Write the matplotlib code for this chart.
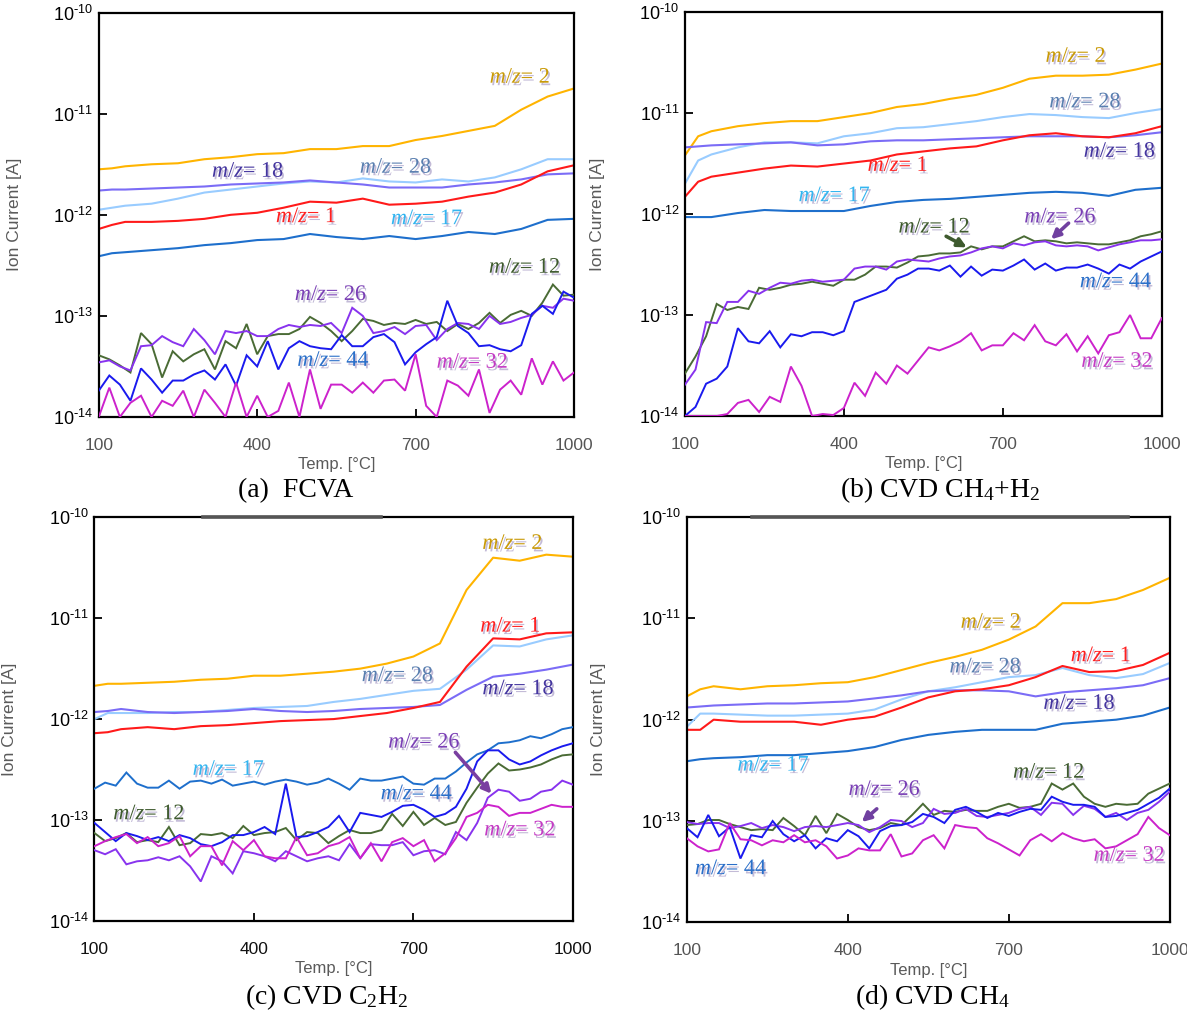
import numpy as np
import matplotlib
matplotlib.use("Agg")
import matplotlib.pyplot as plt
import matplotlib.patheffects as pe
from matplotlib.ticker import NullLocator

plt.rcParams['font.family'] = ['Liberation Sans', 'DejaVu Sans']
plt.rcParams['mathtext.fontset'] = 'custom'
plt.rcParams['mathtext.it'] = 'Liberation Serif:italic'
plt.rcParams['mathtext.rm'] = 'Liberation Serif'

# ---------------- data (log10 of ion current [A]) ----------------
T_SMOOTH = [100, 125, 150, 200, 250, 300, 350, 400, 450, 500, 550, 600, 650,
            700, 750, 800, 850, 900, 950, 1000]
T_NOISY = [100, 120, 140, 160, 180, 200, 220, 240, 260, 280, 300, 320, 340,
           360, 380, 400, 420, 440, 460, 480, 500, 520, 540, 560, 580, 600,
           620, 640, 660, 680, 700, 720, 740, 760, 780, 800, 820, 840, 860,
           880, 900, 920, 940, 960, 980, 1000]
X_TICKS = [100, 400, 700, 1000]
Y_TICKS = [-14, -13, -12, -11, -10]

# (a) FCVA
a_mz2 = [-11.55, -11.54, -11.52, -11.50, -11.49, -11.45, -11.43, -11.40, -11.39, -11.35,
         -11.35, -11.32, -11.32, -11.26, -11.22, -11.17, -11.12, -10.96, -10.83, -10.75]
a_mz28 = [-11.95, -11.93, -11.91, -11.89, -11.84, -11.78, -11.75, -11.72, -11.69, -11.67,
          -11.68, -11.64, -11.67, -11.68, -11.65, -11.67, -11.63, -11.55, -11.45, -11.45]
a_mz18 = [-11.76, -11.75, -11.75, -11.74, -11.73, -11.72, -11.70, -11.69, -11.68, -11.66,
          -11.68, -11.70, -11.73, -11.73, -11.73, -11.70, -11.68, -11.65, -11.60, -11.59]
a_mz1 = [-12.14, -12.10, -12.07, -12.07, -12.06, -12.04, -12.00, -11.98, -11.93, -11.87,
         -11.88, -11.84, -11.90, -11.89, -11.87, -11.82, -11.78, -11.70, -11.57, -11.51]
a_mz17 = [-12.41, -12.38, -12.37, -12.35, -12.33, -12.30, -12.28, -12.25, -12.24, -12.19,
          -12.22, -12.24, -12.21, -12.24, -12.21, -12.17, -12.19, -12.14, -12.05, -12.04]
a_mz12 = [-13.39, -13.43, -13.49, -13.56, -13.17, -13.28, -13.61, -13.35, -13.45, -13.38,
          -13.33, -13.53, -13.25, -13.32, -13.08, -13.38, -13.20, -13.18, -13.18, -13.13,
          -13.01, -13.07, -13.15, -13.25, -13.15, -13.03, -13.05, -13.09, -13.07, -13.08,
          -13.04, -13.08, -13.06, -13.15, -13.08, -13.13, -13.07, -12.97, -13.07, -12.99,
          -12.95, -13.00, -12.87, -12.69, -12.80, -12.79]
a_mz26 = [-13.46, -13.44, -13.50, -13.54, -13.30, -13.29, -13.20, -13.26, -13.30, -13.13,
          -13.24, -13.38, -13.15, -13.17, -13.15, -13.20, -13.20, -13.13, -13.09, -13.11,
          -13.09, -13.10, -13.07, -13.17, -12.92, -13.00, -13.17, -13.15, -13.11, -13.18,
          -13.10, -13.09, -13.24, -13.13, -13.07, -13.08, -13.13, -13.00, -13.08, -13.06,
          -13.02, -12.99, -12.90, -12.92, -12.83, -12.85]
a_mz44 = [-13.74, -13.59, -13.68, -13.84, -13.52, -13.63, -13.76, -13.64, -13.64, -13.58,
          -13.54, -13.63, -13.48, -13.69, -13.39, -13.50, -13.25, -13.53, -13.32, -13.25,
          -13.30, -13.32, -13.33, -13.19, -13.30, -13.30, -13.21, -13.18, -13.26, -13.48,
          -13.36, -13.28, -13.21, -12.85, -13.10, -13.17, -13.30, -13.29, -13.33, -13.35,
          -13.29, -12.98, -12.90, -12.98, -12.76, -12.82]
a_mz32 = [-14.00, -13.71, -14.00, -13.86, -13.79, -14.00, -13.84, -13.89, -13.74, -14.00,
          -13.73, -13.86, -14.00, -13.66, -14.00, -13.79, -14.00, -13.94, -13.66, -14.00,
          -13.53, -13.92, -13.68, -13.68, -13.76, -13.66, -13.76, -13.64, -13.63, -13.74,
          -13.38, -13.89, -14.00, -13.64, -13.69, -13.79, -13.53, -13.96, -13.73, -13.64,
          -13.78, -13.42, -13.68, -13.45, -13.64, -13.56]

# (b) CVD CH4+H2
b_mz2 = [-11.42, -11.23, -11.18, -11.13, -11.10, -11.08, -11.08, -11.04, -11.00, -10.94,
         -10.91, -10.86, -10.82, -10.75, -10.66, -10.63, -10.63, -10.62, -10.57, -10.51]
b_mz28 = [-11.70, -11.47, -11.41, -11.34, -11.29, -11.29, -11.30, -11.23, -11.20, -11.15,
          -11.14, -11.11, -11.08, -11.04, -11.01, -11.02, -11.04, -11.05, -11.00, -10.96]
b_mz18 = [-11.34, -11.33, -11.32, -11.31, -11.30, -11.29, -11.32, -11.31, -11.28, -11.27,
          -11.27, -11.26, -11.25, -11.24, -11.23, -11.23, -11.23, -11.24, -11.22, -11.19]
b_mz1 = [-11.83, -11.68, -11.63, -11.59, -11.55, -11.52, -11.53, -11.50, -11.47, -11.41,
         -11.38, -11.35, -11.33, -11.27, -11.22, -11.20, -11.23, -11.24, -11.20, -11.13]
b_mz17 = [-12.03, -12.03, -12.03, -11.99, -11.96, -11.97, -11.97, -11.97, -11.92, -11.88,
          -11.86, -11.85, -11.83, -11.81, -11.79, -11.78, -11.79, -11.82, -11.76, -11.74]
b_mz12 = [-13.58, -13.41, -13.21, -12.89, -12.95, -12.92, -12.94, -12.73, -12.75, -12.73,
          -12.70, -12.69, -12.67, -12.69, -12.71, -12.65, -12.65, -12.60, -12.52, -12.52,
          -12.53, -12.48, -12.42, -12.41, -12.39, -12.39, -12.38, -12.32, -12.35, -12.32,
          -12.32, -12.27, -12.22, -12.27, -12.26, -12.27, -12.29, -12.28, -12.29, -12.30,
          -12.30, -12.28, -12.26, -12.22, -12.20, -12.17]
b_mz26 = [-13.69, -13.54, -13.07, -13.08, -12.87, -12.87, -12.76, -12.79, -12.73, -12.68,
          -12.69, -12.66, -12.65, -12.67, -12.66, -12.65, -12.54, -12.52, -12.52, -12.55,
          -12.47, -12.45, -12.46, -12.47, -12.44, -12.42, -12.41, -12.38, -12.34, -12.32,
          -12.34, -12.29, -12.31, -12.28, -12.27, -12.31, -12.32, -12.31, -12.32, -12.36,
          -12.33, -12.30, -12.28, -12.26, -12.26, -12.25]
b_mz44 = [-14.00, -13.91, -13.68, -13.63, -13.51, -13.13, -13.26, -13.28, -13.16, -13.32,
          -13.19, -13.21, -13.17, -13.17, -13.20, -13.16, -12.87, -12.83, -12.79, -12.75,
          -12.64, -12.60, -12.54, -12.54, -12.56, -12.51, -12.62, -12.52, -12.61, -12.55,
          -12.56, -12.51, -12.45, -12.55, -12.49, -12.56, -12.53, -12.53, -12.50, -12.54,
          -12.59, -12.50, -12.54, -12.47, -12.42, -12.37]
b_mz32 = [-14.00, -14.00, -14.00, -14.00, -13.98, -13.87, -13.84, -13.96, -13.81, -13.86,
          -13.51, -13.70, -14.00, -13.98, -13.99, -13.92, -13.67, -13.80, -13.57, -13.68,
          -13.50, -13.58, -13.45, -13.32, -13.35, -13.31, -13.26, -13.18, -13.35, -13.30,
          -13.30, -13.18, -13.25, -13.10, -13.26, -13.30, -13.19, -13.36, -13.21, -13.38,
          -13.20, -13.17, -13.00, -13.23, -13.23, -13.03]

# (c) CVD C2H2
c_mz2 = [-11.67, -11.65, -11.65, -11.64, -11.63, -11.61, -11.60, -11.57, -11.57, -11.55,
         -11.53, -11.50, -11.45, -11.38, -11.25, -10.72, -10.40, -10.43, -10.37, -10.39]
c_mz1 = [-12.14, -12.13, -12.10, -12.08, -12.10, -12.07, -12.06, -12.04, -12.02, -12.01,
         -12.00, -11.97, -11.94, -11.89, -11.83, -11.48, -11.20, -11.21, -11.15, -11.14]
c_mz28 = [-12.00, -11.94, -11.94, -11.94, -11.93, -11.93, -11.91, -11.89, -11.88, -11.87,
          -11.83, -11.80, -11.76, -11.72, -11.70, -11.51, -11.27, -11.28, -11.21, -11.17]
c_mz18 = [-11.93, -11.92, -11.90, -11.93, -11.94, -11.93, -11.92, -11.90, -11.92, -11.93,
          -11.92, -11.90, -11.89, -11.88, -11.86, -11.71, -11.58, -11.55, -11.51, -11.46]
c_mz17 = [-12.69, -12.63, -12.66, -12.53, -12.64, -12.68, -12.68, -12.61, -12.69, -12.62,
          -12.61, -12.64, -12.60, -12.66, -12.64, -12.62, -12.65, -12.62, -12.60, -12.62,
          -12.65, -12.63, -12.59, -12.64, -12.70, -12.59, -12.61, -12.61, -12.59, -12.57,
          -12.64, -12.65, -12.59, -12.59, -12.52, -12.43, -12.35, -12.31, -12.24, -12.23,
          -12.21, -12.17, -12.19, -12.15, -12.10, -12.08]
c_mz12 = [-13.13, -13.21, -13.18, -13.13, -13.22, -13.20, -13.22, -13.07, -13.25, -13.23,
          -13.14, -13.15, -13.13, -13.18, -13.06, -13.15, -13.13, -13.12, -13.08, -13.20,
          -13.12, -13.13, -13.23, -13.16, -13.10, -13.13, -13.13, -13.10, -12.94, -13.06,
          -12.92, -13.05, -12.98, -13.05, -13.02, -12.83, -12.68, -12.54, -12.44, -12.51,
          -12.50, -12.48, -12.45, -12.40, -12.36, -12.35]
c_mz44 = [-13.03, -13.12, -13.21, -13.13, -13.16, -13.20, -13.17, -13.21, -13.15, -13.18,
          -13.24, -13.26, -13.22, -13.15, -13.15, -13.12, -13.07, -13.14, -12.64, -13.17,
          -13.16, -13.12, -13.07, -12.96, -13.12, -12.93, -12.95, -12.97, -12.92, -12.86,
          -12.85, -12.90, -12.97, -12.94, -12.87, -12.69, -12.42, -12.31, -12.31, -12.40,
          -12.45, -12.42, -12.36, -12.31, -12.27, -12.24]
c_mz26 = [-13.30, -13.34, -13.29, -13.44, -13.41, -13.40, -13.37, -13.40, -13.36, -13.46,
          -13.61, -13.36, -13.41, -13.53, -13.31, -13.33, -13.36, -13.41, -13.31, -13.36,
          -13.41, -13.38, -13.36, -13.40, -13.24, -13.38, -13.24, -13.25, -13.25, -13.22,
          -13.35, -13.31, -13.30, -13.34, -13.12, -13.20, -13.03, -12.78, -12.70, -12.72,
          -12.81, -12.79, -12.72, -12.70, -12.61, -12.65]
c_mz32 = [-13.26, -13.21, -13.17, -13.14, -13.23, -13.17, -13.26, -13.23, -13.16, -13.36,
          -13.26, -13.26, -13.45, -13.21, -13.30, -13.20, -13.36, -13.38, -13.38, -13.17,
          -13.35, -13.33, -13.26, -13.23, -13.17, -13.38, -13.23, -13.41, -13.22, -13.18,
          -13.26, -13.20, -13.41, -13.33, -13.18, -12.97, -12.93, -12.85, -12.87, -12.96,
          -12.93, -12.93, -12.89, -12.85, -12.87, -12.87]

# (d) CVD CH4
d_mz2 = [-11.77, -11.70, -11.67, -11.70, -11.67, -11.66, -11.64, -11.63, -11.58, -11.51,
         -11.44, -11.38, -11.31, -11.21, -11.08, -10.85, -10.85, -10.81, -10.72, -10.60]
d_mz1 = [-12.10, -12.10, -12.00, -12.02, -12.02, -12.02, -12.05, -12.00, -11.97, -11.88,
         -11.78, -11.72, -11.70, -11.66, -11.58, -11.47, -11.53, -11.52, -11.46, -11.34]
d_mz28 = [-12.07, -11.94, -11.94, -11.95, -11.96, -11.96, -11.95, -11.94, -11.90, -11.80,
          -11.72, -11.68, -11.63, -11.58, -11.56, -11.49, -11.56, -11.59, -11.55, -11.44]
d_mz18 = [-11.88, -11.87, -11.86, -11.85, -11.84, -11.84, -11.83, -11.82, -11.79, -11.76,
          -11.72, -11.71, -11.71, -11.72, -11.77, -11.73, -11.71, -11.69, -11.66, -11.59]
d_mz17 = [-12.41, -12.39, -12.38, -12.37, -12.35, -12.35, -12.33, -12.31, -12.27, -12.20,
          -12.15, -12.12, -12.10, -12.10, -12.10, -12.04, -12.02, -12.00, -11.96, -11.88]
d_mz12 = [-13.04, -13.03, -12.99, -12.99, -13.03, -13.06, -13.09, -13.08, -13.09, -12.97,
          -13.05, -13.14, -12.95, -13.12, -12.93, -12.99, -13.06, -13.09, -13.07, -13.02,
          -13.04, -12.94, -12.83, -12.94, -12.90, -12.91, -12.89, -12.90, -12.90, -12.86,
          -12.83, -12.87, -12.86, -12.83, -12.63, -12.69, -12.63, -12.76, -12.83, -12.86,
          -12.83, -12.84, -12.83, -12.73, -12.68, -12.63]
d_mz26 = [-13.01, -13.03, -13.02, -13.02, -13.07, -13.05, -13.02, -13.07, -13.04, -13.06,
          -13.10, -13.06, -13.05, -13.06, -13.04, -13.02, -13.04, -13.11, -13.06, -12.99,
          -13.00, -13.06, -13.02, -12.88, -12.93, -12.92, -12.88, -12.95, -12.96, -12.94,
          -12.92, -12.88, -12.86, -12.94, -12.82, -12.83, -12.94, -12.85, -12.88, -12.96,
          -12.92, -12.99, -12.92, -12.89, -12.81, -12.71]
d_mz44 = [-13.07, -13.16, -12.94, -13.15, -13.06, -13.37, -13.14, -13.16, -13.00, -13.13,
          -13.20, -13.14, -13.27, -13.17, -13.20, -13.09, -13.15, -13.27, -13.10, -13.05,
          -13.04, -13.01, -12.93, -12.96, -13.02, -12.89, -12.86, -12.91, -12.97, -12.92,
          -12.95, -12.91, -12.88, -12.89, -12.76, -12.81, -12.84, -12.84, -12.86, -12.96,
          -12.95, -12.92, -12.89, -12.83, -12.77, -12.68]
d_mz32 = [-13.17, -13.25, -13.30, -13.28, -13.02, -13.18, -13.19, -13.24, -13.19, -13.21,
          -13.14, -13.21, -13.19, -13.25, -13.37, -13.34, -13.27, -13.29, -13.29, -13.13,
          -13.35, -13.32, -13.19, -13.14, -13.27, -13.04, -13.06, -13.07, -13.17, -13.22,
          -13.28, -13.34, -13.19, -13.13, -13.20, -13.12, -13.17, -13.20, -13.18, -13.27,
          -13.25, -13.19, -13.13, -12.96, -13.07, -13.14]

# ---------------- styles ----------------
LINE_COLORS = {'2': '#FFB400', '28': '#99CCFF', '18': '#7B6CF6', '1': '#FF1A1A',
               '17': '#1E6FCC', '12': '#4A6B35', '26': '#8833EE', '44': '#1A1AEE',
               '32': '#CC22CC'}
LABEL_COLORS = {'2': '#C99A06', '28': '#5A7FB0', '18': '#44359F', '1': '#FF2020',
                '17': '#33B5F0', '12': '#3E5A2E', '26': '#7A3FB5', '44': '#2A6FC9',
                '32': '#C43BC4'}
DRAW_ORDER = ['2', '28', '18', '1', '17', '12', '26', '44', '32']

panels = [
    dict(rect=[0.0832, 0.5884, 0.4004, 0.3991],
         data={'2': a_mz2, '28': a_mz28, '18': a_mz18, '1': a_mz1, '17': a_mz17,
               '12': a_mz12, '26': a_mz26, '44': a_mz44, '32': a_mz32},
         labels={'2': (898, -10.65), '18': (383, -11.58), '28': (663, -11.54),
                 '1': (493, -12.03), '17': (722, -12.05), '12': (907, -12.53),
                 '26': (540, -12.80), '44': (545, -13.45), '32': (808, -13.47)},
         arrows=[],
         caption=r'(a)  FCVA', cap_xy=(0.249, 0.5094), xtc='#555555',
         ylab_x=-0.162, topbar=None),
    dict(rect=[0.5770, 0.5893, 0.4018, 0.3988],
         data={'2': b_mz2, '28': b_mz28, '18': b_mz18, '1': b_mz1, '17': b_mz17,
               '12': b_mz12, '26': b_mz26, '44': b_mz44, '32': b_mz32},
         labels={'2': (838, -10.45), '28': (856, -10.90), '18': (921, -11.39),
                 '1': (502, -11.53), '17': (383, -11.83), '12': (571, -12.14),
                 '26': (809, -12.04), '44': (914, -12.68), '32': (916, -13.47)},
         arrows=[((593, -12.22), (632, -12.33), '#3E5A2E'),
                 ((824, -12.09), (791, -12.25), '#7040A0')],
         caption=r'(b) CVD $\mathregular{CH_4}$+$\mathregular{H_2}$',
         cap_xy=(0.792, 0.5094), xtc='#555555', ylab_x=-0.168, topbar=None),
    dict(rect=[0.0796, 0.0910, 0.4030, 0.3983],
         data={'2': c_mz2, '28': c_mz28, '18': c_mz18, '1': c_mz1, '17': c_mz17,
               '12': c_mz12, '26': c_mz26, '44': c_mz44, '32': c_mz32},
         labels={'2': (887, -10.27), '1': (883, -11.09), '28': (671, -11.58),
                 '18': (898, -11.71), '26': (721, -12.24), '17': (353, -12.51),
                 '44': (707, -12.75), '12': (203, -12.95), '32': (901, -13.11)},
         arrows=[((779, -12.33), (847, -12.74), '#7A3FA0')],
         caption=r'(c) CVD $\mathregular{C_2H_2}$', cap_xy=(0.2755, 0.0085),
         xtc='#111111', ylab_x=-0.161, topbar=(0.227, 0.599)),
    dict(rect=[0.5786, 0.0895, 0.4069, 0.4001],
         data={'2': d_mz2, '28': d_mz28, '18': d_mz18, '1': d_mz1, '17': d_mz17,
               '12': d_mz12, '26': d_mz26, '44': d_mz44, '32': d_mz32},
         labels={'2': (667, -11.05), '1': (872, -11.38), '28': (657, -11.49),
                 '18': (832, -11.85), '17': (262, -12.46), '12': (775, -12.53),
                 '26': (469, -12.70), '44': (183, -13.48), '32': (925, -13.35)},
         arrows=[((454, -12.88), (426, -13.01), '#7040A0')],
         caption=r'(d) CVD $\mathregular{CH_4}$', cap_xy=(0.7856, 0.0085),
         xtc='#555555', ylab_x=-0.168, topbar=(0.136, 0.913)),
]

fig = plt.figure(figsize=(11.87, 10.13), dpi=100)

for p in panels:
    ax = fig.add_axes(p['rect'])
    ax.set_yscale('log')
    for k in DRAW_ORDER:
        vals = p['data'][k]
        temps = T_SMOOTH if len(vals) == len(T_SMOOTH) else T_NOISY
        noisy = temps is T_NOISY
        ax.plot(temps, 10.0 ** np.array(vals), color=LINE_COLORS[k],
                lw=1.4 if noisy else 1.5,
                solid_joinstyle='miter' if noisy else 'round',
                zorder=3 if noisy else 2)
    ax.set_xlim(100, 1000)
    ax.set_ylim(1e-14, 1e-10)
    ax.set_yticks([10.0 ** e for e in Y_TICKS])
    ax.set_yticklabels([r'$\mathregular{10^{\text{-}%d}}$' % abs(e) for e in Y_TICKS],
                       fontsize=13, color='black')
    ax.yaxis.set_minor_locator(NullLocator())
    ax.set_xticks(X_TICKS)
    ax.set_xticklabels([str(v) for v in X_TICKS], fontsize=12.5, color=p['xtc'])
    ax.tick_params(axis='y', direction='in', length=6, width=1.3, pad=4)
    ax.tick_params(axis='x', direction='in', length=6, width=1.3, pad=15)
    for s in ax.spines.values():
        s.set_linewidth(1.6)
        s.set_color('black')
    ax.set_ylabel('Ion Current [A]', fontsize=12.5, color='#5a5a5a')
    ax.yaxis.set_label_coords(p['ylab_x'], 0.5)
    ax.set_xlabel('Temp. [°C]', fontsize=12, color='#5a5a5a')
    ax.xaxis.set_label_coords(0.5, -0.10)

    for k, (tx, ly) in p['labels'].items():
        ax.text(tx, 10.0 ** ly, r'$\mathit{m/z}$= ' + k, family='Liberation Serif',
                fontsize=16, color=LABEL_COLORS[k], ha='center', va='center',
                zorder=5,
                path_effects=[pe.withSimplePatchShadow(offset=(1.2, -1.8),
                                                       shadow_rgbFace='#7a68a8',
                                                       alpha=0.45)])
    for (t0, l0), (t1, l1), col in p['arrows']:
        ax.annotate('', xy=(t1, 10.0 ** l1), xytext=(t0, 10.0 ** l0),
                    arrowprops=dict(arrowstyle='-|>', color=col, lw=2.6,
                                    mutation_scale=13, shrinkA=0, shrinkB=0),
                    zorder=6)
    if p['topbar'] is not None:
        ax.plot(list(p['topbar']), [1.0, 1.0], transform=ax.transAxes,
                color='#555555', lw=2.6, clip_on=False, zorder=7)

    fig.text(p['cap_xy'][0], p['cap_xy'][1], p['caption'], family='Liberation Serif',
             fontsize=20, ha='center', va='baseline', color='black')

fig.savefig('out.png', dpi=100)
